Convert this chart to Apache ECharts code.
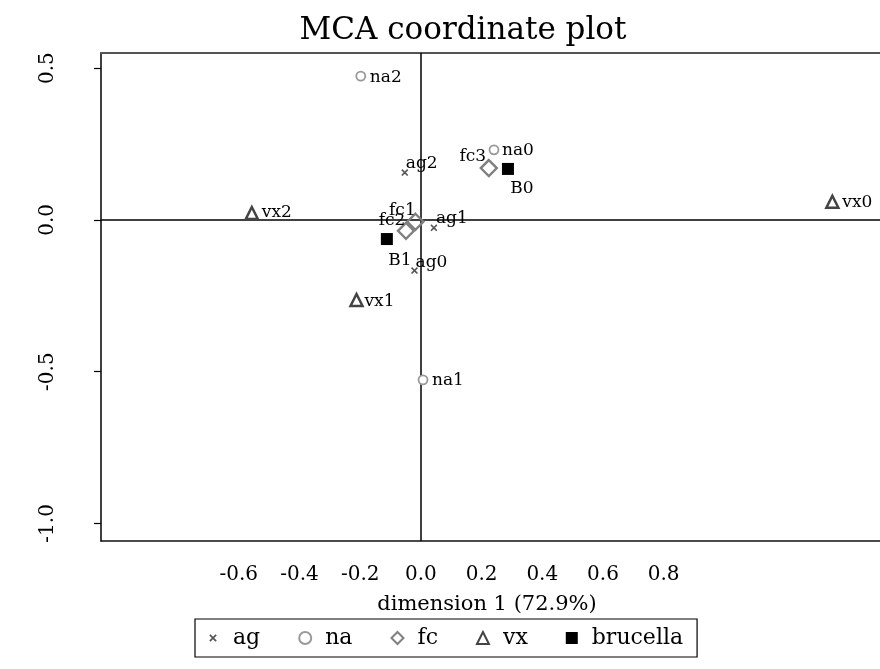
<!DOCTYPE html>
<html><head><meta charset="utf-8">
<script src="https://cdn.jsdelivr.net/npm/echarts@6/dist/echarts.min.js"></script>
<style>html,body{margin:0;padding:0;background:#fff}#c{width:880px;height:669px}</style>
</head><body><div id="c"></div>
<script>
// ---- data ----
const agNames = ['ag0','ag1','ag2'];
const agX = [-0.021, 0.043, -0.053];
const agY = [-0.167, -0.026, 0.156];
const naNames = ['na0','na1','na2'];
const naX = [0.241, 0.007, -0.198];
const naY = [0.231, -0.527, 0.474];
const fcNames = ['fc1','fc2','fc3'];
const fcX = [-0.018, -0.049, 0.224];
const fcY = [-0.006, -0.036, 0.171];
const vxNames = ['vx0','vx1','vx2'];
const vxX = [1.356, -0.212, -0.557];
const vxY = [0.060, -0.264, 0.023];
const bNames = ['B0','B1'];
const bX = [0.287, -0.112];
const bY = [0.168, -0.063];
const xTickLabels = [-0.6,-0.4,-0.2,0.0,0.2,0.4,0.6,0.8];
const yTickLabels = [-1.0,-0.5,0.0,0.5];
const xLim = [-1.054, 1.513];
const yLim = [-1.058, 0.550];
const titleText = 'MCA coordinate plot';
const xName = 'dimension 1 (72.9%)';

// ---- styling ----
const FONT = 'DejaVu Serif';
const PX = 303.5; // pixels per unit (both axes, asp = 1)
const G = {left:101, top:53};
const labelOffset = {
  ag0:[17,-8], ag1:[18,-9], ag2:[17,-9],
  na0:[24,1], na1:[25,1], na2:[25,2],
  fc1:[-13,-11], fc2:[-14,-10], fc3:[-16,-11],
  vx0:[25,1], vx1:[23,2], vx2:[25,0],
  B0:[14,20], B1:[13,22]
};
const xPath = 'path://M0,1.6L1.6,0L5,3.4L8.4,0L10,1.6L6.6,5L10,8.4L8.4,10L5,6.6L1.6,10L0,8.4L3.4,5Z';
const xPathLegend = 'path://M-3,-3M13,13M0,1.6L1.6,0L5,3.4L8.4,0L10,1.6L6.6,5L10,8.4L8.4,10L5,6.6L1.6,10L0,8.4L3.4,5Z';

function mk(name, names, xs, ys, symbol, size, itemStyle, extra) {
  return Object.assign({
    name, type:'scatter', xAxisIndex:0, yAxisIndex:0,
    symbol, symbolSize:size, itemStyle:Object.assign({opacity:1}, itemStyle), z:5,
    label:{show:true, position:'inside', formatter:'{b}', color:'#000',
      fontFamily:FONT, fontSize:17, align:'center', verticalAlign:'middle',
      textBorderWidth:0},
    emphasis:{disabled:true},
    data: names.map((n,i)=>({name:n, value:[xs[i], ys[i]], label:{offset:labelOffset[n]}}))
  }, extra||{});
}

const gridW = (xLim[1]-xLim[0])*PX, gridH = (yLim[1]-yLim[0])*PX;
const xl0 = xTickLabels[0], xl1 = xTickLabels[xTickLabels.length-1];
const yl0 = yTickLabels[0], yl1 = yTickLabels[yTickLabels.length-1];

const chart = echarts.init(document.getElementById('c'), null, {renderer:'canvas'});
chart.setOption({
  animation:false,
  backgroundColor:'#fff',
  title:[
    {text:titleText, left:463, top:15, textAlign:'center', padding:0,
     textStyle:{fontFamily:FONT, fontSize:31, fontWeight:'normal', color:'#000'}},
    {text:xName, left:487, top:594, textAlign:'center', padding:0,
     textStyle:{fontFamily:FONT, fontSize:21, fontWeight:'normal', color:'#000'}}
  ],
  grid:[
    {left:G.left, top:G.top, width:gridW, height:gridH},
    {left:G.left + (xl0-xLim[0])*PX, top:G.top, width:(xl1-xl0)*PX, height:gridH},
    {left:G.left, top:G.top + (yLim[1]-yl1)*PX, width:gridW, height:(yl1-yl0)*PX}
  ],
  xAxis:[
    {gridIndex:0, type:'value', min:xLim[0], max:xLim[1], position:'bottom',
     axisLine:{show:true, onZero:false, lineStyle:{color:'#111', width:1.5}}, axisTick:{show:false}, axisLabel:{show:false}, splitLine:{show:false}},
    {gridIndex:0, type:'value', min:xLim[0], max:xLim[1], position:'top',
     axisLine:{show:true, onZero:false, lineStyle:{color:'#555', width:2}}, axisTick:{show:false}, axisLabel:{show:false}, splitLine:{show:false}},
    {gridIndex:1, type:'value', min:xl0, max:xl1, interval:0.2,
     axisLine:{show:false}, axisTick:{show:false}, splitLine:{show:false},
     axisLabel:{margin:24, fontFamily:FONT, fontSize:20, color:'#000', formatter:v=>Number(v).toFixed(1)}},
    {gridIndex:2, type:'value', show:false}
  ],
  yAxis:[
    {gridIndex:0, type:'value', min:yLim[0], max:yLim[1], position:'left',
     axisLine:{show:true, onZero:false, lineStyle:{color:'#000', width:1.5}}, axisTick:{show:false}, axisLabel:{show:false}, splitLine:{show:false}},
    {gridIndex:1, type:'value', show:false},
    {gridIndex:2, type:'value', min:yl0, max:yl1, interval:0.5,
     axisLine:{show:false}, splitLine:{show:false},
     axisTick:{show:true, length:7, lineStyle:{color:'#000', width:1.2}},
     axisLabel:{rotate:90, margin:43, fontFamily:FONT, fontSize:20, color:'#000', formatter:v=>Number(v).toFixed(1)}}
  ],
  legend:{
    left:195, top:619, orient:'horizontal',
    borderColor:'#000', borderWidth:1.2, padding:[8,14,8,12],
    itemGap:38, itemWidth:12, itemHeight:12,
    textStyle:{fontFamily:FONT, fontSize:22, color:'#000', padding:[0,0,0,9]},
    data:[
      {name:'ag', icon:xPathLegend, itemStyle:{color:'#555', borderWidth:0, opacity:1}},
      {name:'na', icon:'emptyCircle', itemStyle:{color:'#999', borderColor:'#999', borderWidth:1.8, opacity:1}},
      {name:'fc', icon:'emptyDiamond', itemStyle:{color:'#808080', borderColor:'#808080', borderWidth:2.2, opacity:1}},
      {name:'vx', icon:'emptyTriangle', itemStyle:{color:'#444', borderColor:'#444', borderWidth:2.5, opacity:1}},
      {name:'brucella', icon:'rect', itemStyle:{color:'#000', borderWidth:0, opacity:1}}
    ]
  },
  series:[
    mk('ag', agNames, agX, agY, xPath, 7, {color:'#555'}, {
      markLine:{silent:true, symbol:['none','none'], label:{show:false},
        lineStyle:{color:'#000', width:1.5, type:'solid'}, emphasis:{disabled:true},
        data:[{xAxis:0},{yAxis:0}], z:1}
    }),
    mk('na', naNames, naX, naY, 'circle', 9, {color:'#fff', borderColor:'#999', borderWidth:1.8}),
    mk('fc', fcNames, fcX, fcY, 'diamond', 16, {color:'transparent', borderColor:'#808080', borderWidth:2.4}),
    mk('vx', vxNames, vxX, vxY, 'triangle', 12, {color:'#fff', borderColor:'#444', borderWidth:2.5}),
    mk('brucella', bNames, bX, bY, 'rect', 12, {color:'#000'})
  ]
});
</script>
</body></html>
